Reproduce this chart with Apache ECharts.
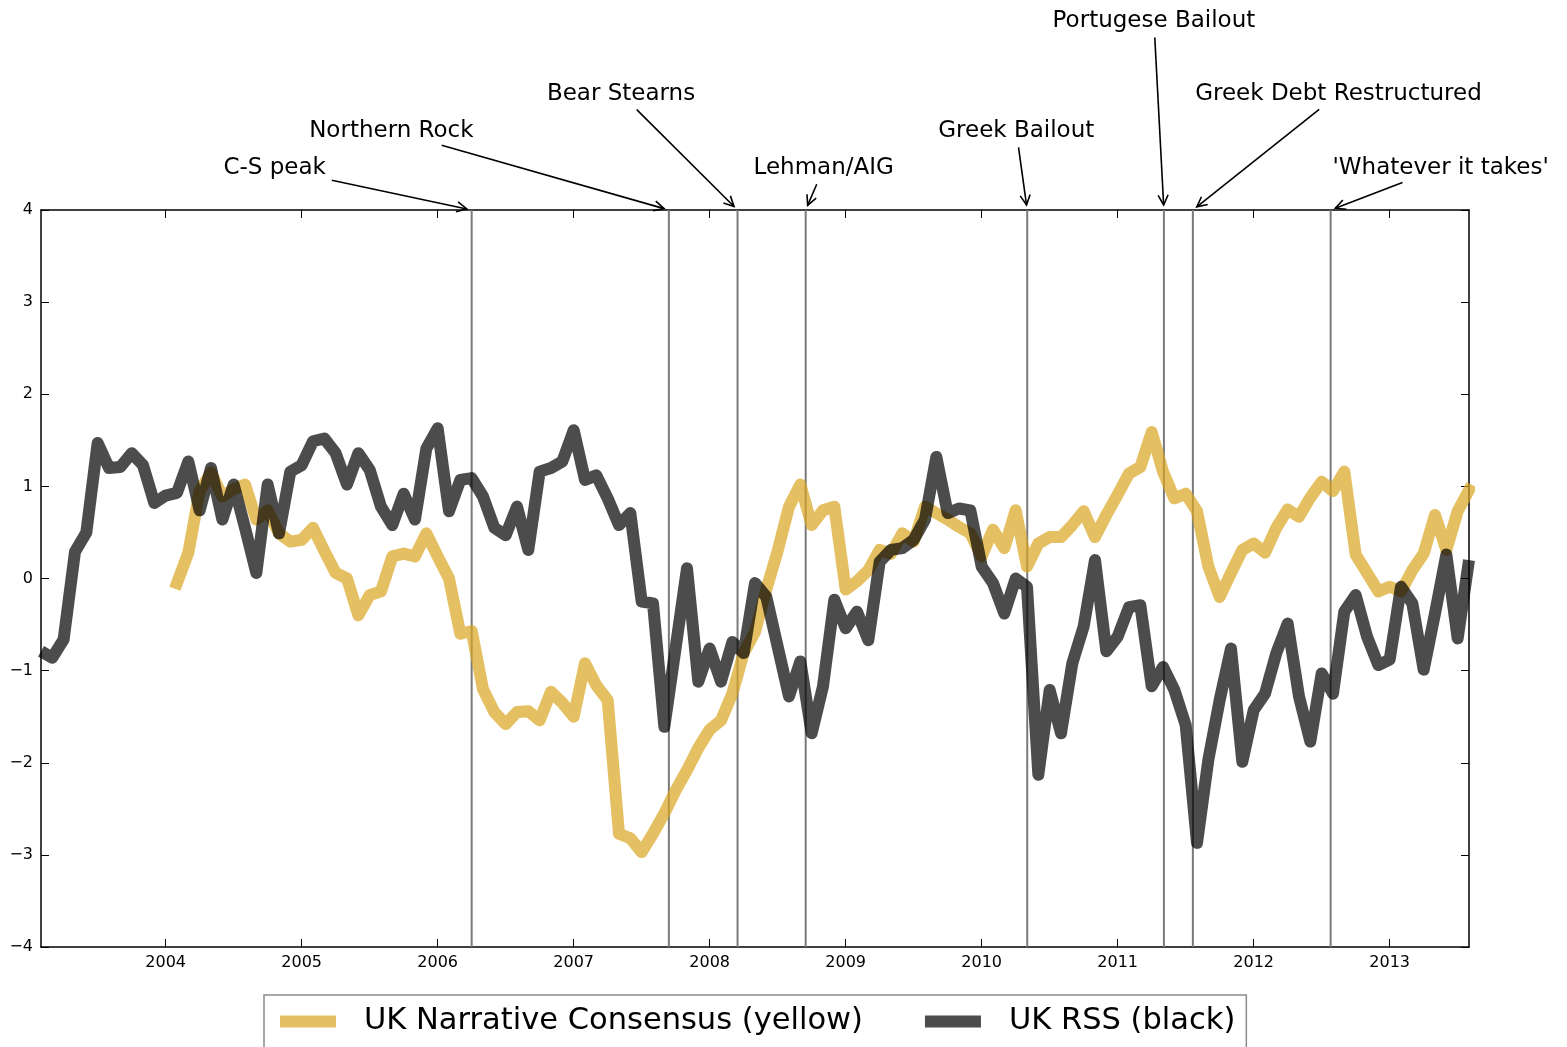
<!DOCTYPE html>
<html>
<head>
<meta charset="utf-8">
<title>UK Narrative Consensus vs UK RSS</title>
<script src="https://cdn.jsdelivr.net/npm/echarts@6/dist/echarts.min.js"></script>
<style>
  html, body { margin: 0; padding: 0; background: #ffffff; overflow: hidden; }
  #chart { width: 1567px; height: 1047px; }
</style>
</head>
<body>
<div id="chart"></div>
<script>
// ---- data ---------------------------------------------------------------
// Both series are monthly. RSS starts February 2003, the narrative index February 2004.
const rssStart = [2003, 2];
const narrativeStart = [2004, 2];

const rss = [
  -0.79, -0.86, -0.66, 0.29, 0.50, 1.47, 1.20, 1.21, 1.36, 1.23, 0.82, 0.90,
  0.93, 1.27, 0.74, 1.20, 0.64, 1.02, 0.55, 0.06, 1.02, 0.49, 1.16, 1.23,
  1.49, 1.52, 1.36, 1.02, 1.36, 1.18, 0.78, 0.58, 0.92, 0.64, 1.41, 1.63,
  0.73, 1.07, 1.09, 0.89, 0.55, 0.47, 0.78, 0.31, 1.16, 1.20, 1.27, 1.61,
  1.07, 1.12, 0.87, 0.58, 0.71, -0.25, -0.27, -1.61, -0.75, 0.11, -1.12, -0.76,
  -1.12, -0.69, -0.81, -0.05, -0.20, -0.74, -1.28, -0.90, -1.68, -1.17, -0.23, -0.54,
  -0.36, -0.67, 0.18, 0.31, 0.33, 0.42, 0.64, 1.32, 0.71, 0.76, 0.74, 0.13,
  -0.05, -0.38, 0.00, -0.09, -2.13, -1.21, -1.68, -0.92, -0.52, 0.20, -0.79, -0.63,
  -0.31, -0.29, -1.17, -0.96, -1.21, -1.59, -2.87, -1.97, -1.32, -0.76, -1.99, -1.43,
  -1.25, -0.81, -0.49, -1.28, -1.77, -1.03, -1.25, -0.36, -0.18, -0.63, -0.94, -0.88,
  -0.09, -0.27, -0.99, -0.38, 0.26, -0.65, 0.20
];

const narrative = [
  -0.05, 0.28, 0.95, 1.15, 0.89, 0.97, 1.02, 0.64, 0.74, 0.49, 0.40, 0.42,
  0.55, 0.30, 0.06, 0.00, -0.40, -0.18, -0.14, 0.24, 0.27, 0.24, 0.49, 0.24,
  0.00, -0.60, -0.57, -1.20, -1.45, -1.58, -1.45, -1.44, -1.54, -1.23, -1.35, -1.50,
  -0.92, -1.16, -1.32, -2.77, -2.82, -2.97, -2.77, -2.55, -2.30, -2.08, -1.84, -1.64,
  -1.54, -1.25, -0.81, -0.58, -0.12, 0.30, 0.78, 1.02, 0.58, 0.74, 0.78, -0.12,
  -0.03, 0.09, 0.31, 0.27, 0.49, 0.40, 0.78, 0.71, 0.64, 0.56, 0.49, 0.24,
  0.53, 0.33, 0.74, 0.13, 0.38, 0.45, 0.45, 0.58, 0.73, 0.45, 0.69, 0.91,
  1.14, 1.21, 1.59, 1.16, 0.87, 0.92, 0.73, 0.13, -0.20, 0.06, 0.31, 0.38,
  0.28, 0.55, 0.75, 0.67, 0.88, 1.05, 0.95, 1.16, 0.26, 0.06, -0.14, -0.09,
  -0.14, 0.09, 0.27, 0.69, 0.31, 0.73, 0.96
];

const seriesNames = ['UK Narrative Consensus (yellow)', 'UK RSS (black)'];

// x range (decimal years): February 2003 .. August 2013
const xRange = [2003 + 1 / 12, 2013 + 7 / 12];
const yearTicks = [2004, 2005, 2006, 2007, 2008, 2009, 2010, 2011, 2012, 2013];
const yRange = [-4, 4];

// Crisis events (decimal years)
const eventLabels = [
  'C-S peak', 'Northern Rock', 'Bear Stearns', 'Lehman/AIG',
  'Greek Bailout', 'Portugese Bailout', 'Greek Debt Restructured', "'Whatever it takes'"
];
const eventDates = [2006.25, 2007.70, 2008.205, 2008.706, 2010.335, 2011.34, 2011.553, 2012.566];

// ---- helpers ------------------------------------------------------------
function toDecimal(start, i) {
  const m = start[1] - 1 + i;
  return start[0] + m / 12;
}
const rssData = rss.map((v, i) => [toDecimal(rssStart, i), v]);
const narrativeData = narrative.map((v, i) => [toDecimal(narrativeStart, i), v]);

const FONT = '"DejaVu Sans", "Noto Sans", sans-serif';
const yellow = 'rgba(218,165,32,0.7)';
const black = 'rgba(0,0,0,0.7)';

// annotation text placement, relative to the arrow target at the top of the axes
const labelOffsets = [
  [-197, -42], [-277.5, -79], [-116.5, -116], [18, -42],
  [-11, -79], [-10, -189], [145.6, -116], [110, -42]
];

const chart = echarts.init(document.getElementById('chart'), null, { renderer: 'canvas' });

const axisLineStyle = { show: true, onZero: false, lineStyle: { color: '#000', width: 1.5 } };
const tickStyle = { show: true, inside: true, length: 8, lineStyle: { color: '#000', width: 1 } };

const option = {
  animation: false,
  backgroundColor: '#ffffff',
  grid: { left: 41, top: 210, width: 1428, height: 737, containLabel: false },
  xAxis: [
    {
      type: 'value', position: 'bottom', min: xRange[0], max: xRange[1],
      axisLine: axisLineStyle,
      axisTick: Object.assign({ customValues: yearTicks }, tickStyle),
      axisLabel: {
        customValues: yearTicks, color: '#000', fontFamily: FONT, fontSize: 16, margin: 8,
        formatter: v => String(Math.round(v))
      },
      splitLine: { show: false }
    },
    {
      type: 'value', position: 'top', min: xRange[0], max: xRange[1],
      axisLine: axisLineStyle,
      axisTick: Object.assign({ customValues: yearTicks }, tickStyle),
      axisLabel: { show: false },
      splitLine: { show: false }
    }
  ],
  yAxis: [
    {
      type: 'value', position: 'left', min: yRange[0], max: yRange[1], interval: 1,
      axisLine: axisLineStyle,
      axisTick: tickStyle,
      axisLabel: {
        color: '#000', fontFamily: FONT, fontSize: 16, margin: 8,
        formatter: v => String(v).replace('-', '\u2212')
      },
      splitLine: { show: false }
    },
    {
      type: 'value', position: 'right', min: yRange[0], max: yRange[1], interval: 1,
      axisLine: axisLineStyle,
      axisTick: tickStyle,
      axisLabel: { show: false },
      splitLine: { show: false }
    }
  ],
  legend: {
    left: 264, top: 995,
    orient: 'horizontal',
    icon: 'rect', itemWidth: 56, itemHeight: 12, itemGap: 62,
    padding: [11, 11, 40, 16],
    borderColor: '#8a8a8a', borderWidth: 1.5,
    textStyle: { color: '#000', fontFamily: FONT, fontSize: 30.5, padding: [2, 0, 0, 23] },
    data: seriesNames
  },
  series: [
    {
      name: 'events', type: 'custom', z: 1, silent: true,
      data: eventDates.map(d => [d, 0]),
      encode: { x: 0, y: 1 },
      renderItem: (params, api) => {
        const d = api.value(0);
        const p1 = api.coord([d, yRange[1]]);
        const p2 = api.coord([d, yRange[0]]);
        return {
          type: 'line',
          shape: { x1: p1[0], y1: p1[1], x2: p2[0], y2: p2[1] },
          style: { stroke: '#7a7a7a', lineWidth: 2 }
        };
      }
    },
    {
      name: seriesNames[0], type: 'line', z: 2, data: narrativeData,
      showSymbol: false, symbol: 'none', clip: true,
      color: yellow, itemStyle: { color: yellow },
      lineStyle: { color: yellow, width: 12, cap: 'square', join: 'round' }
    },
    {
      name: seriesNames[1], type: 'line', z: 3, data: rssData,
      showSymbol: false, symbol: 'none', clip: true,
      color: black, itemStyle: { color: black },
      lineStyle: { color: black, width: 12, cap: 'butt', join: 'round' }
    }
  ]
};

chart.setOption(option);

// ---- annotations with arrows -------------------------------------------
const measureCtx = document.createElement('canvas').getContext('2d');
const ANN_SIZE = 23;
measureCtx.font = ANN_SIZE + 'px ' + FONT;

const graphics = [];
eventDates.forEach((d, i) => {
  const tip = chart.convertToPixel({ gridIndex: 0 }, [d, yRange[1]]);
  const cx = tip[0] + labelOffsets[i][0];
  const cy = tip[1] + labelOffsets[i][1];
  graphics.push({
    type: 'text', x: cx, y: cy, z: 10,
    style: {
      text: eventLabels[i], fill: '#000', fontFamily: FONT, fontSize: ANN_SIZE,
      align: 'center', verticalAlign: 'middle'
    }
  });

  // arrow from the text box edge to the target
  const w = measureCtx.measureText(eventLabels[i]).width;
  const bx = cx, by = cy;
  const hw = w / 2 + 3, hh = 13.5;
  let dx = tip[0] - bx, dy = tip[1] - by;
  const len = Math.hypot(dx, dy);
  dx /= len; dy /= len;
  const tx = Math.abs(dx) > 1e-6 ? hw / Math.abs(dx) : Infinity;
  const ty = Math.abs(dy) > 1e-6 ? hh / Math.abs(dy) : Infinity;
  const t0 = Math.min(tx, ty) + 3;
  const sx = bx + dx * t0, sy = by + dy * t0;
  const ex = tip[0] - dx * 5, ey = tip[1] - dy * 5;
  graphics.push({
    type: 'line', z: 10,
    shape: { x1: sx, y1: sy, x2: ex, y2: ey },
    style: { stroke: '#000', lineWidth: 1.6 }
  });
  const hl = 10, hwid = 5;
  const px = -dy, py = dx;
  graphics.push({
    type: 'polyline', z: 10,
    shape: {
      points: [
        [ex - dx * hl + px * hwid, ey - dy * hl + py * hwid],
        [ex, ey],
        [ex - dx * hl - px * hwid, ey - dy * hl - py * hwid]
      ]
    },
    style: { stroke: '#000', lineWidth: 1.6, fill: null }
  });
});

chart.setOption({ graphic: graphics });
</script>
</body>
</html>
